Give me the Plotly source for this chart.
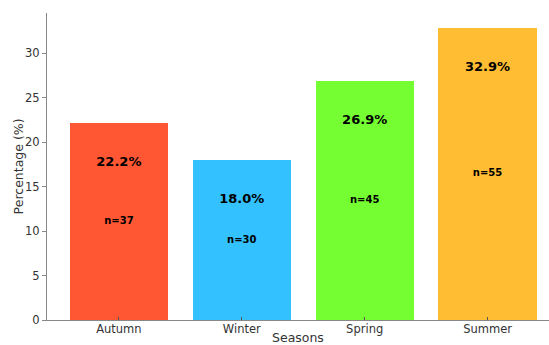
import plotly.graph_objects as go

seasons = ["Autumn", "Winter", "Spring", "Summer"]
percentages = [22.2, 18.0, 26.9, 32.9]
counts = [37, 30, 45, 55]
colors = ["#FF5733", "#33C1FF", "#75FF33", "#FFBD33"]

fig = go.Figure()
fig.add_trace(go.Bar(x=list(range(len(seasons))), y=percentages, marker_color=colors,
                     marker_line_width=0, width=0.8))
# percentage labels
fig.add_trace(go.Scatter(x=list(range(len(seasons))), y=[p - 4.5 for p in percentages],
                         mode="text", text=[f"<b>{p:.1f}%</b>" for p in percentages],
                         textfont=dict(family="DejaVu Sans", size=13, color="black"),
                         showlegend=False, hoverinfo="skip"))
# count labels
fig.add_trace(go.Scatter(x=list(range(len(seasons))), y=[p / 2 for p in percentages],
                         mode="text", text=[f"<b>n={c}</b>" for c in counts],
                         textfont=dict(family="DejaVu Sans", size=10, color="black"),
                         showlegend=False, hoverinfo="skip"))

fig.update_layout(
    width=549, height=345,
    margin=dict(l=47, r=0, t=13, b=25, autoexpand=False),
    plot_bgcolor="white", paper_bgcolor="white",
    showlegend=False,
    font=dict(family="DejaVu Sans", size=11.5, color="#333333"),
    bargap=0,
    annotations=[
        dict(text="Seasons", xref="paper", yref="paper", x=0.5, y=-0.057,
             xanchor="center", yanchor="middle", showarrow=False,
             font=dict(size=12.5, color="#333333")),
        dict(text="Percentage (%)", xref="paper", yref="paper", x=-0.056, y=0.5,
             xanchor="center", yanchor="middle", textangle=-90, showarrow=False,
             font=dict(size=12.5, color="#333333")),
    ],
)
fig.update_xaxes(
    range=[-0.585, 3.5], tickmode="array", tickvals=list(range(len(seasons))), ticktext=seasons,
    showgrid=False, zeroline=False, showline=True, linecolor="#888888", linewidth=1.2,
    ticks="inside", ticklen=3, tickcolor="#555555", automargin=False, ticklabelstandoff=-2,
)
fig.update_yaxes(
    range=[0, 34.55], tickvals=[0, 5, 10, 15, 20, 25, 30], automargin=False,
    showgrid=False, zeroline=False, showline=True, linecolor="#888888", linewidth=1.2,
    ticks="outside", ticklen=4, tickcolor="#888888",
)

fig.write_html("out.html")
